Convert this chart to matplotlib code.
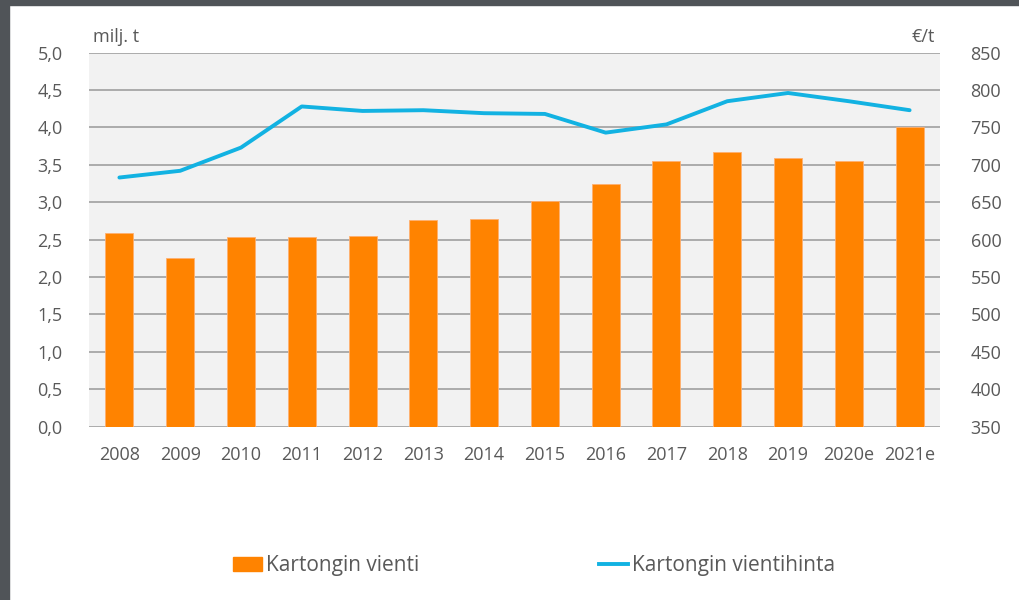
import matplotlib
matplotlib.use("Agg")
import matplotlib.pyplot as plt
import matplotlib.patches as mpatches
from matplotlib.lines import Line2D
import numpy as np

# Data
years = ['2008', '2009', '2010', '2011', '2012', '2013', '2014',
         '2015', '2016', '2017', '2018', '2019', '2020e', '2021e']
export_volume = [2.59, 2.25, 2.54, 2.53, 2.55, 2.76, 2.78,
                 3.01, 3.25, 3.55, 3.67, 3.59, 3.55, 4.00]   # milj. t
export_price = [683, 692, 723, 778, 772, 773, 769,
                768, 743, 754, 785, 796, 785, 773]           # EUR/t

left_ticks = [0.0, 0.5, 1.0, 1.5, 2.0, 2.5, 3.0, 3.5, 4.0, 4.5, 5.0]
right_ticks = [350, 400, 450, 500, 550, 600, 650, 700, 750, 800, 850]

BAR_COLOR = '#ff8300'
LINE_COLOR = '#12b2e2'
GRID_COLOR = '#a6a6a6'
TEXT_COLOR = '#595959'
FRAME_COLOR = '#505458'

plt.rcParams['font.family'] = ['Open Sans', 'DejaVu Sans']

fig = plt.figure(figsize=(10.19, 6.0), dpi=100)
fig.patch.set_facecolor('white')

# dark frame strips on the left and top edge of the screenshot
fig.patches.append(mpatches.Rectangle((0, 0), 9 / 1019, 1, transform=fig.transFigure,
                                      color=FRAME_COLOR, zorder=10))
fig.patches.append(mpatches.Rectangle((0, 1 - 5 / 600), 1, 5 / 600, transform=fig.transFigure,
                                      color=FRAME_COLOR, zorder=10))

ax = fig.add_axes([89 / 1019, 1 - 426.6 / 600, (940 - 89) / 1019, (426.6 - 52.6) / 600])
ax.set_facecolor('#f2f2f2')

x = np.arange(len(years))
ax.bar(x, export_volume, width=0.46, color=BAR_COLOR, edgecolor='#ffb070',
       linewidth=0.6, zorder=3)
ax.set_xlim(-0.5, len(years) - 0.5)
ax.set_ylim(0, 5.0)
ax.set_yticks(left_ticks)
ax.set_yticklabels([f'{v:.1f}'.replace('.', ',') for v in left_ticks])
ax.set_xticks(x)
ax.set_xticklabels(years)
ax.yaxis.grid(True, color=GRID_COLOR, linewidth=1.3, zorder=1)
ax.set_axisbelow(True)
for s in ax.spines.values():
    s.set_visible(False)
ax.tick_params(axis='both', length=0, labelsize=13, colors=TEXT_COLOR)
ax.tick_params(axis='y', pad=19)
ax.tick_params(axis='x', pad=14)

ax2 = ax.twinx()
ax2.plot(x, export_price, color=LINE_COLOR, linewidth=2.8, solid_joinstyle='round',
         solid_capstyle='round', zorder=4)
ax2.set_ylim(350, 850)
ax2.set_yticks(right_ticks)
for s in ax2.spines.values():
    s.set_visible(False)
ax2.tick_params(axis='y', length=0, labelsize=13, colors=TEXT_COLOR, pad=22)

# unit labels
fig.text(93 / 1019, 1 - 37 / 600, 'milj. t', fontsize=13, color=TEXT_COLOR,
         ha='left', va='center')
fig.text(935 / 1019, 1 - 37 / 600, '€/t', fontsize=13, color=TEXT_COLOR,
         ha='right', va='center')

handles = [mpatches.Patch(color=BAR_COLOR),
           Line2D([0], [0], color=LINE_COLOR, linewidth=2.8)]
fig.legend(handles, ['Kartongin vienti', 'Kartongin vientihinta'],
           loc='center', bbox_to_anchor=(534 / 1019, 1 - 566 / 600), ncol=2,
           frameon=False, fontsize=15, labelcolor=TEXT_COLOR,
           handlelength=1.4, handleheight=0.67, handletextpad=0.2, columnspacing=8.6)

fig.savefig('out.png', dpi=100)
